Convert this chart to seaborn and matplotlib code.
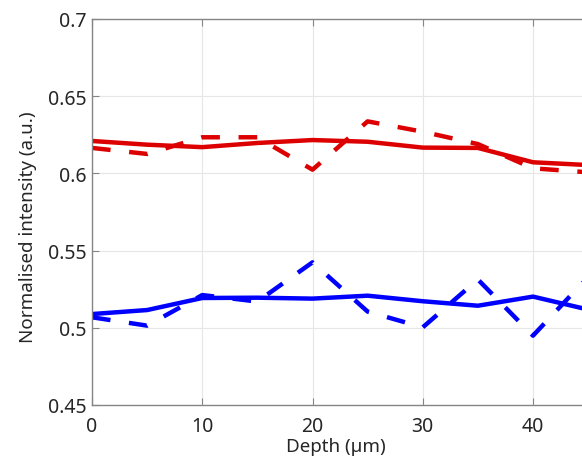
import numpy as np
import pandas as pd
import matplotlib
matplotlib.use("Agg")
import matplotlib.pyplot as plt
import seaborn as sns

depth = [0, 5, 10, 15, 20, 25, 30, 35, 40, 45]
red_solid = [0.621, 0.6186, 0.617, 0.6197, 0.6216, 0.6205, 0.6167, 0.6165, 0.6072, 0.6054]
red_dashed = [0.6165, 0.6126, 0.6234, 0.6234, 0.6024, 0.6337, 0.627, 0.619, 0.6033, 0.6007]
blue_solid = [0.5089, 0.5115, 0.5193, 0.5195, 0.5189, 0.5208, 0.5172, 0.5143, 0.5202, 0.5118]
blue_dashed = [0.5068, 0.5014, 0.5212, 0.517, 0.5424, 0.5105, 0.5003, 0.5313, 0.4949, 0.533]
xticks = [0, 10, 20, 30, 40]
yticks = [0.45, 0.5, 0.55, 0.6, 0.65, 0.7]
ytick_labels = ["0.45", "0.5", "0.55", "0.6", "0.65", "0.7"]

sns.set_style("white")
plt.rcParams['font.family'] = ['Noto Sans', 'DejaVu Sans']

W, H = 582, 460
fig = plt.figure(figsize=(W / 100, H / 100), dpi=100)
left, right, top, bottom = 92, 582, 20, 406
ax = fig.add_axes([left / W, (H - bottom) / H, (right - left) / W, (bottom - top) / H])

px_per_unit = (533 - 92) / 40.0
xmax = (right - left) / px_per_unit

red = "#dc0000"
blue = "#0000ff"
lw = 3.2
sns.lineplot(x=depth, y=red_solid, ax=ax, color=red, lw=lw)
sns.lineplot(x=depth, y=red_dashed, ax=ax, color=red, lw=lw).lines[-1].set_dashes((4.2, 4.2))
sns.lineplot(x=depth, y=blue_solid, ax=ax, color=blue, lw=lw)
sns.lineplot(x=depth, y=blue_dashed, ax=ax, color=blue, lw=lw).lines[-1].set_dashes((4.2, 4.2))
for ln in ax.lines:
    ln.set_solid_capstyle("butt")
    ln.set_dash_capstyle("butt")

ax.set_xlim(0, xmax)
ax.set_ylim(0.45, 0.7)
ax.set_xticks(xticks)
ax.set_xticklabels([str(t) for t in xticks])
ax.set_yticks(yticks)
ax.set_yticklabels(ytick_labels)
ax.grid(True, color="#e6e6e6", lw=0.8)
ax.set_axisbelow(True)

for s in ["left", "bottom", "top"]:
    ax.spines[s].set_visible(True)
    ax.spines[s].set_color("#858585")
    ax.spines[s].set_linewidth(1.0)
ax.spines["right"].set_visible(False)

ax.tick_params(axis="both", direction="in", length=5, width=0.8, color="#858585",
               labelsize=14, labelcolor="#262626", top=True, left=True, bottom=True)
ax.tick_params(axis="x", pad=8)
ax.tick_params(axis="y", pad=4)

ax.set_xlabel("Depth (µm)", fontsize=13.5, color="#262626")
ax.set_ylabel("Normalised intensity (a.u.)", fontsize=13.5, color="#262626")
ax.xaxis.set_label_coords(0.497, -0.083)
ax.yaxis.set_label_coords(-0.112, 0.4624)

fig.savefig("out.png", dpi=100)
